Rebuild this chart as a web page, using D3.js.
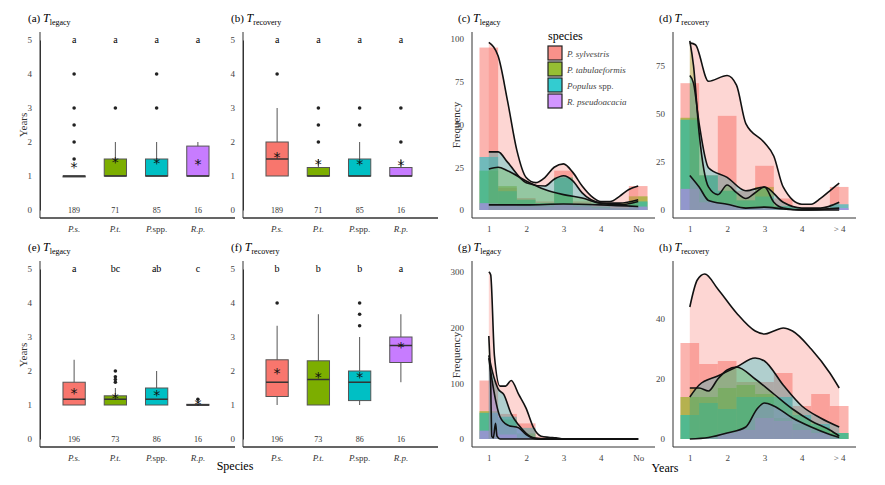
<!DOCTYPE html>
<html><head><meta charset="utf-8">
<script src="https://cdn.jsdelivr.net/npm/d3@7"></script>
<style>body{margin:0;background:#fff}svg{font-family:"Liberation Serif","DejaVu Serif",serif}</style>
</head><body><div id="vis"></div>
<script>
var species = ["P.s.","P.t.","P.spp.","R.p."];
var speciesLong = ["P. sylvestris","P. tabulaeformis","Populus spp.","R. pseudoacacia"];
var colors = ["#F8766D","#7CAE00","#00BFC4","#C77CFF"];
var binCenters = [1,1.5,2,2.5,3,3.5,4,4.5,5];

// boxplots: [q1, median, q3, whiskerLow, whiskerHigh, mean, outliers]
var boxA = [[1,1,1,1,1,1.25,[1.5,2,2.5,3,4]],[1,1,1.5,1,2,1.4,[3]],[1,1,1.5,1,2,1.38,[3,4]],[1,1,1.88,1,2,1.35,[]]];
var boxB = [[1,1.5,2,1,3,1.55,[4]],[1,1,1.25,1,1.5,1.35,[2,2.5,3]],[1,1,1.5,1,2,1.35,[2.5,3]],[1,1,1.25,1,1.5,1.3,[2,3]]];
var boxE = [[1,1.17,1.67,1,2.33,1.33,[]],[1,1.17,1.27,1,1.5,1.2,[1.67,1.75,1.83,2]],[1,1.17,1.5,1,2,1.27,[]],[1,1,1.02,1,1.02,1.02,[1.17]]];
var boxF = [[1.25,1.67,2.33,1,3.33,1.92,[4]],[1,1.75,2.3,1,3.67,1.82,[]],[1.13,1.67,2,1,3,1.8,[3.33,3.67,4]],[2.25,2.75,3,1.67,3.67,2.7,[]]];
var lettersA = ["a","a","a","a"], lettersB = ["a","a","a","a"];
var lettersE = ["a","bc","ab","c"], lettersF = ["b","b","b","a"];
var nTop = [189,71,85,16], nBottom = [196,73,86,16];

// histogram counts per species (bins of 0.5 years)
var histC = [[95,13,7,5,23,5,3,2,14],[23,14,6,4,19,3,2,1,8],[31,11,6,4,19,3,2,1,5],[4,3,2,2,3,2,1,1,2]];
var histD = [[66,18,49,10,23,6,1,1,12],[48,18,10,5,12,2,1,0,0],[47,18,10,5,7,2,1,0,3],[11,4,3,1,1,0,0,0,1]];
var histG = [[105,45,28,3,0,0,0,0,0],[50,35,10,0,0,0,0,0,0],[47,40,20,2,0,0,0,0,0],[15,8,2,0,0,0,0,0,0]];
var histH = [[32,25,26,19,19,22,11,15,11],[14,14,17,18,15,7,5,4,2],[8,12,10,14,14,14,8,5,2],[0,0,2,3,7,6,3,2,0]];

// density curves: [x, y]
var curveC = [
  [[1,98],[1.25,90],[1.5,64],[1.75,35],[2,19],[2.25,16],[2.5,19],[2.75,25],[3,27],[3.25,22],[3.5,14],[3.75,8],[4,5],[4.25,5],[4.5,8],[4.75,12],[5,14]],
  [[1,24],[1.25,25],[1.5,23],[2,17],[2.5,12],[3,9],[3.5,7],[4,4],[4.5,4],[5,6]],
  [[1,34],[1.25,34],[1.5,28],[2,16],[2.5,14],[2.75,18],[3,20],[3.25,17],[3.5,10],[4,4],[4.5,3],[5,5]],
  [[1,3],[2,3],[3,3.5],[4,3],[5,2]]];
var curveD = [
  [[1,87],[1.15,86],[1.5,67],[2,70],[2.25,65],[2.5,45],[3,35],[3.25,28],[3.5,12],[4,3],[4.25,3],[4.5,6],[4.75,10],[5,14]],
  [[1,88],[1.1,75],[1.25,40],[1.5,12],[1.75,8],[2,13],[2.25,9],[2.5,6],[2.75,9],[3,12],[3.25,4],[3.5,1],[4,0],[5,0]],
  [[1,70],[1.1,66],[1.25,45],[1.5,22],[2,17],[2.5,10],[3,12],[3.5,4],[4,1],[4.5,1],[5,4]],
  [[1,18],[1.25,12],[1.5,5],[2,3],[2.5,1],[3,1.5],[3.5,0.5],[4,0],[5,1]]];
var curveG = [
  [[1,300],[1.05,295],[1.15,150],[1.3,95],[1.45,95],[1.6,105],[1.8,80],[2,55],[2.2,20],[2.4,5],[2.6,3],[2.8,2],[3,0],[5,0]],
  [[1,185],[1.05,100],[1.08,5],[1.12,2],[1.18,28],[1.22,5],[1.3,0],[5,0]],
  [[1,150],[1.1,120],[1.25,90],[1.4,80],[1.6,45],[1.8,25],[2,10],[2.2,2],[2.5,0],[5,0]],
  [[1,145],[1.1,100],[1.3,40],[1.5,25],[1.8,20],[2,8],[2.3,0],[5,0]]];
var curveH = [
  [[1,44],[1.2,53],[1.4,55],[1.75,50],[2.25,42],[2.75,36],[3,35],[3.25,36],[3.5,37],[3.75,36],[4.25,30],[4.75,22],[5,17]],
  [[1,17],[1.25,17],[1.5,16],[1.75,20],[2,23],[2.25,24],[2.75,20],[3.25,15],[3.75,10],[4.25,6],[4.75,3],[5,1]],
  [[1,14],[1.25,18],[1.75,21],[2.25,24],[2.75,27],[3,26],[3.5,18],[4,11],[4.5,7],[5,4]],
  [[1,0],[1.5,0.5],[2,2],[2.5,4],[2.8,10],[3,12],[3.25,11],[3.75,7],[4.25,4],[4.75,1.5],[5,0.5]]];

var W = 885, H = 485;
var svg = d3.select('#vis').append('svg').attr('width', W).attr('height', H);

function title(x, y, tag, sub) {
  var t = svg.append('text').attr('x', x).attr('y', y).attr('font-size', 11);
  t.append('tspan').text(tag + ' ');
  t.append('tspan').attr('font-style', 'italic').attr('font-size', 12).text('T');
  t.append('tspan').attr('font-size', 8).attr('dy', 3).text(sub);
}

function axesFrame(x0, x1, y0, y1, bottom) {
  svg.append('line').attr('x1', x0).attr('x2', x0).attr('y1', y1).attr('y2', bottom).attr('stroke', '#333');
  svg.append('line').attr('x1', x0).attr('x2', x1).attr('y1', bottom).attr('y2', bottom).attr('stroke', '#333');
}

function boxPanel(x0, top, data, letters, ns, tag, sub) {
  var y = d3.scaleLinear().domain([0, 5]).range([top + 170, top]);
  var x = d3.scaleBand().domain(species).range([x0 + 4, x0 + 188]).padding(0.46);
  var bottom = top + 178;
  title(x0 - 12, top - 18, tag, sub);
  axesFrame(x0, x0 + 195, y, top - 8, bottom);
  svg.append('line').attr('x1', x0).attr('x2', x0 + 195).attr('y1', bottom).attr('y2', bottom).attr('stroke', '#333');
  var ax = svg.append('g').attr('transform', 'translate(' + x0 + ',0)')
    .call(d3.axisLeft(y).ticks(5).tickSize(0).tickPadding(8));
  ax.select('.domain').attr('stroke', '#333');
  ax.selectAll('text').attr('font-size', 9).attr('font-family', 'Liberation Serif').attr('fill', '#444');
  var bx = svg.append('g').attr('transform', 'translate(0,' + bottom + ')')
    .call(d3.axisBottom(x).tickSize(0).tickPadding(8));
  bx.select('.domain').remove();
  bx.selectAll('text').attr('font-size', 9).attr('font-style', 'italic').attr('font-family', 'Liberation Serif')
    .attr('fill', '#333').text(function (d) { return d === 'P.spp.' ? '' : d; })
    .each(function (d) {
      if (d === 'P.spp.') {
        var s = d3.select(this);
        s.append('tspan').text('P.');
        s.append('tspan').attr('font-style', 'normal').text('spp.');
      }
    });
  var g = svg.selectAll(null).data(data).enter().append('g');
  var cx = function (d, i) { return x(species[i]) + x.bandwidth() / 2; };
  g.append('line').attr('x1', cx).attr('x2', cx)
    .attr('y1', function (d) { return y(d[3]); }).attr('y2', function (d) { return y(d[4]); }).attr('stroke', '#555');
  g.append('rect').attr('x', function (d, i) { return x(species[i]); }).attr('width', x.bandwidth())
    .attr('y', function (d) { return y(d[2]); })
    .attr('height', function (d) { return Math.max(1, y(d[0]) - y(d[2])); })
    .attr('fill', function (d, i) { return colors[i]; }).attr('stroke', '#555');
  g.append('line').attr('x1', function (d, i) { return x(species[i]); })
    .attr('x2', function (d, i) { return x(species[i]) + x.bandwidth(); })
    .attr('y1', function (d) { return y(d[1]); }).attr('y2', function (d) { return y(d[1]); })
    .attr('stroke', '#333').attr('stroke-width', 1.5);
  g.each(function (d, i) {
    var gg = d3.select(this);
    gg.selectAll('circle').data(d[6]).enter().append('circle')
      .attr('cx', cx(d, i)).attr('cy', function (v) { return y(v); }).attr('r', 1.8).attr('fill', '#222');
    gg.append('text').attr('x', cx(d, i)).attr('y', y(d[5]) + 4.5).attr('text-anchor', 'middle')
      .attr('font-size', 14).attr('font-family', 'DejaVu Sans').attr('fill', '#111').text('*');
    gg.append('text').attr('x', cx(d, i)).attr('y', y(5) + 3).attr('text-anchor', 'middle')
      .attr('font-size', 10).text(letters[i]);
    gg.append('text').attr('x', cx(d, i)).attr('y', y(0) + 3).attr('text-anchor', 'middle')
      .attr('font-size', 8).attr('fill', '#333').text(ns[i]);
  });
}

function histPanel(x0, top, ymax, ticks, hist, curves, lastLab, tag, sub) {
  var bottom = top + 178;
  var x = d3.scaleLinear().domain([0.55, 5.45]).range([x0, x0 + 183]);
  var y = d3.scaleLinear().domain([0, ymax]).range([top + 170, top + 170 - ymax * (171 / ticks.yPer)]);
  title(x0 - 14, top - 18, tag, sub);
  svg.append('line').attr('x1', x0).attr('x2', x0 + 183).attr('y1', bottom).attr('y2', bottom).attr('stroke', '#333');
  var ax = svg.append('g').attr('transform', 'translate(' + x0 + ',0)')
    .call(d3.axisLeft(y).tickValues(ticks.v).tickSize(0).tickPadding(8));
  ax.select('.domain').attr('d', 'M0,' + (top - 8) + 'V' + bottom).attr('stroke', '#333');
  ax.selectAll('text').attr('font-size', 9).attr('font-family', 'Liberation Serif').attr('fill', '#444');
  var bx = svg.append('g').attr('transform', 'translate(0,' + bottom + ')')
    .call(d3.axisBottom(x).tickValues([1, 2, 3, 4, 5]).tickSize(0).tickPadding(8)
      .tickFormat(function (d) { return d === 5 ? lastLab : d; }));
  bx.select('.domain').remove();
  bx.selectAll('text').attr('font-size', 9).attr('font-family', 'Liberation Serif').attr('fill', '#444');
  var bw = x(1.5) - x(1);
  hist.forEach(function (h, s) {
    svg.append('g').selectAll('rect').data(h).enter().append('rect')
      .attr('x', function (d, i) { return x(binCenters[i]) - bw / 2; }).attr('width', bw)
      .attr('y', function (d) { return y(d); }).attr('height', function (d) { return y(0) - y(d); })
      .attr('fill', colors[s]).attr('opacity', 0.55);
  });
  var area = d3.area().x(function (d) { return x(d[0]); }).y0(y(0)).y1(function (d) { return y(d[1]); }).curve(d3.curveMonotoneX);
  var line = d3.line().x(function (d) { return x(d[0]); }).y(function (d) { return y(d[1]); }).curve(d3.curveMonotoneX);
  curves.forEach(function (c, s) {
    svg.append('path').datum(c).attr('d', area).attr('fill', colors[s]).attr('opacity', 0.3);
  });
  curves.forEach(function (c) {
    svg.append('path').datum(c).attr('d', line).attr('fill', 'none').attr('stroke', '#111').attr('stroke-width', 1.6);
  });
}

boxPanel(40, 40, boxA, lettersA, nTop, '(a)', 'legacy');
boxPanel(243, 40, boxB, lettersB, nTop, '(b)', 'recovery');
boxPanel(40, 269, boxE, lettersE, nBottom, '(e)', 'legacy');
boxPanel(243, 269, boxF, lettersF, nBottom, '(f)', 'recovery');

histPanel(472, 40, 100, { v: [0, 25, 50, 75, 100], yPer: 100 }, histC, curveC, 'No', '(c)', 'legacy');
histPanel(673, 40, 90, { v: [0, 25, 50, 75], yPer: 89 }, histD, curveD, '> 4', '(d)', 'recovery');
histPanel(472, 269, 305, { v: [0, 100, 200, 300], yPer: 307 }, histG, curveG, 'No', '(g)', 'legacy');
histPanel(673, 269, 57, { v: [0, 20, 40], yPer: 57 }, histH, curveH, '> 4', '(h)', 'recovery');

// axis titles
function rotLabel(x, y, txt) {
  svg.append('text').attr('transform', 'translate(' + x + ',' + y + ') rotate(-90)')
    .attr('text-anchor', 'middle').attr('font-size', 11).attr('fill', '#333').text(txt);
}
rotLabel(27, 125, 'Years'); rotLabel(27, 355, 'Years');
rotLabel(460, 125, 'Frequency'); rotLabel(460, 355, 'Frequency');
svg.append('text').attr('x', 235).attr('y', 470).attr('text-anchor', 'middle').attr('font-size', 12).text('Species');
svg.append('text').attr('x', 665).attr('y', 472).attr('text-anchor', 'middle').attr('font-size', 12).text('Years');

// legend
var lg = svg.append('g').attr('transform', 'translate(548,30)');
lg.append('text').attr('x', 0).attr('y', 10).attr('font-size', 12).text('species');
var li = lg.selectAll('g').data(speciesLong).enter().append('g')
  .attr('transform', function (d, i) { return 'translate(0,' + (16 + i * 16) + ')'; });
li.append('rect').attr('width', 14).attr('height', 14).attr('fill', function (d, i) { return colors[i]; })
  .attr('fill-opacity', 0.8).attr('stroke', '#222').attr('stroke-width', 1.2);
li.append('text').attr('x', 19).attr('y', 11).attr('font-size', 9).attr('fill', '#444')
  .each(function (d) {
    var s = d3.select(this);
    if (d === 'Populus spp.') { s.append('tspan').attr('font-style', 'italic').text('Populus'); s.append('tspan').text(' spp.'); }
    else s.attr('font-style', 'italic').text(d);
  });
</script>
</body></html>
